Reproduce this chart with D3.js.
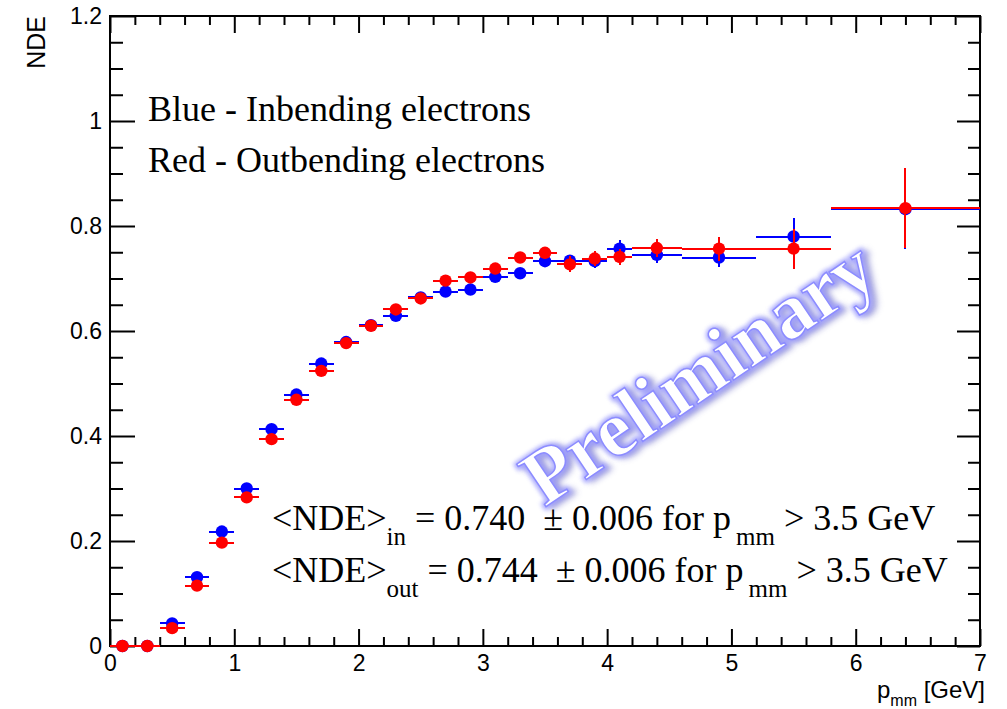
<!DOCTYPE html>
<html>
<head>
<meta charset="utf-8">
<script src="https://cdn.jsdelivr.net/npm/d3@7"></script>
<style>
  html, body { margin: 0; padding: 0; background: #fff; }
  svg { display: block; }
  text { white-space: pre; }
</style>
</head>
<body>
<svg id="chart" width="1007" height="709"></svg>
<script>
// Momentum bins: centres and half widths [GeV]
const binCenters = [0.1, 0.3, 0.5, 0.7, 0.9, 1.1, 1.3, 1.5, 1.7, 1.9, 2.1, 2.3, 2.5,
                    2.7, 2.9, 3.1, 3.3, 3.5, 3.7, 3.9, 4.1, 4.4, 4.9, 5.5, 6.4];
const binHalfWidths = [0.1, 0.1, 0.1, 0.1, 0.1, 0.1, 0.1, 0.1, 0.1, 0.1, 0.1, 0.1, 0.1,
                       0.1, 0.1, 0.1, 0.1, 0.1, 0.1, 0.1, 0.1, 0.2, 0.3, 0.3, 0.6];

// Inbending electrons (blue)
const ndeInbending = [0.000, 0.000, 0.043, 0.131, 0.218, 0.300, 0.413, 0.479, 0.538, 0.579,
                      0.611, 0.629, 0.664, 0.675, 0.679, 0.703, 0.710, 0.733, 0.734, 0.733,
                      0.757, 0.745, 0.740, 0.780, 0.832];
const errInbending = [0.002, 0.002, 0.003, 0.004, 0.004, 0.004, 0.004, 0.004, 0.004, 0.004,
                      0.004, 0.005, 0.005, 0.005, 0.005, 0.006, 0.006, 0.008, 0.011, 0.013,
                      0.016, 0.016, 0.018, 0.035, 0.075];

// Outbending electrons (red)
const ndeOutbending = [0.000, 0.000, 0.034, 0.115, 0.197, 0.283, 0.394, 0.469, 0.524, 0.577,
                       0.610, 0.641, 0.662, 0.696, 0.702, 0.719, 0.740, 0.749, 0.727, 0.738,
                       0.741, 0.758, 0.757, 0.757, 0.834];
const errOutbending = [0.002, 0.002, 0.003, 0.004, 0.004, 0.004, 0.004, 0.004, 0.004, 0.004,
                       0.004, 0.005, 0.005, 0.005, 0.005, 0.006, 0.007, 0.009, 0.015, 0.015,
                       0.016, 0.017, 0.023, 0.038, 0.076];

// Axis ticks
const xMajorTicks = [0, 1, 2, 3, 4, 5, 6, 7];
const yMajorTicks = [0, 0.2, 0.4, 0.6, 0.8, 1.0, 1.2];
const yTickLabels = ["0", "0.2", "0.4", "0.6", "0.8", "1", "1.2"];

const svg = d3.select("#chart");
const frame = { left: 110, right: 980, top: 16, bottom: 646 };

const x = d3.scaleLinear().domain([0, 7]).range([frame.left, frame.right]);
const y = d3.scaleLinear().domain([0, 1.2]).range([frame.bottom, frame.top]);

const xMinor = d3.range(0, 7.0001, 0.2).map(v => +v.toFixed(1)).filter(v => !xMajorTicks.includes(v));
const yMinor = d3.range(0, 1.2001, 0.05).map(v => +v.toFixed(2)).filter(v => !yMajorTicks.some(m => Math.abs(m - v) < 1e-6));

const sans = "'Liberation Sans', Arial, Helvetica, sans-serif";
const serif = "'Liberation Serif', 'Times New Roman', Times, serif";

function styleAxis(g) {
  g.select(".domain").remove();
  g.selectAll(".tick line").attr("stroke", "#000").attr("stroke-width", 2);
  g.selectAll(".tick text").attr("fill", "#000").attr("font-family", sans).attr("font-size", 23);
}

// Bottom axis
svg.append("g").attr("transform", `translate(0,${frame.bottom})`)
  .call(d3.axisBottom(x).tickValues(xMinor).tickSize(-9).tickFormat(""))
  .call(styleAxis);
svg.append("g").attr("transform", `translate(0,${frame.bottom})`)
  .call(d3.axisBottom(x).tickValues(xMajorTicks).tickSize(-17).tickPadding(9).tickFormat(d3.format("d")))
  .call(styleAxis);

// Top axis
svg.append("g").attr("transform", `translate(0,${frame.top})`)
  .call(d3.axisTop(x).tickValues(xMinor).tickSize(-9).tickFormat(""))
  .call(styleAxis);
svg.append("g").attr("transform", `translate(0,${frame.top})`)
  .call(d3.axisTop(x).tickValues(xMajorTicks).tickSize(-17).tickFormat(""))
  .call(styleAxis);

// Left axis
svg.append("g").attr("transform", `translate(${frame.left},0)`)
  .call(d3.axisLeft(y).tickValues(yMinor).tickSize(-13).tickFormat(""))
  .call(styleAxis);
svg.append("g").attr("transform", `translate(${frame.left},0)`)
  .call(d3.axisLeft(y).tickValues(yMajorTicks).tickSize(-25).tickPadding(8)
        .tickFormat((d, i) => yTickLabels[i]))
  .call(styleAxis);

// Right axis
svg.append("g").attr("transform", `translate(${frame.right},0)`)
  .call(d3.axisRight(y).tickValues(yMinor).tickSize(-12).tickFormat(""))
  .call(styleAxis);
svg.append("g").attr("transform", `translate(${frame.right},0)`)
  .call(d3.axisRight(y).tickValues(yMajorTicks).tickSize(-23).tickFormat(""))
  .call(styleAxis);

// Frame
svg.append("rect")
  .attr("x", frame.left).attr("y", frame.top)
  .attr("width", frame.right - frame.left).attr("height", frame.bottom - frame.top)
  .attr("fill", "none").attr("stroke", "#000").attr("stroke-width", 2);

// Axis titles
svg.append("text")
  .attr("transform", `translate(45,${frame.top}) rotate(-90)`)
  .attr("text-anchor", "end")
  .attr("font-family", sans).attr("font-size", 25)
  .text("NDE");

const xTitle = svg.append("text")
  .attr("x", 985).attr("y", 698)
  .attr("text-anchor", "end")
  .attr("font-family", sans).attr("font-size", 24);
xTitle.append("tspan").text("p");
xTitle.append("tspan").attr("font-size", 16).attr("dy", 8).text("mm");
xTitle.append("tspan").attr("dy", -8).text(" [GeV]");

// Watermark
const defs = svg.append("defs");
defs.append("filter").attr("id", "soft").attr("x", "-20%").attr("y", "-40%").attr("width", "140%").attr("height", "180%")
  .append("feGaussianBlur").attr("stdDeviation", 3);
defs.append("filter").attr("id", "softer").attr("x", "-20%").attr("y", "-40%").attr("width", "140%").attr("height", "180%")
  .append("feGaussianBlur").attr("stdDeviation", 2);

const wm = svg.append("g").attr("transform", "translate(713,394) rotate(-34)");
const wmText = "Preliminary";
function wmLabel() {
  return wm.append("text")
    .attr("text-anchor", "middle")
    .attr("font-family", serif).attr("font-weight", "bold").attr("font-size", 79)
    .text(wmText);
}
wmLabel().attr("transform", "translate(4,4)")
  .attr("fill", "#4a4ab8").attr("stroke", "#4a4ab8").attr("stroke-width", 4)
  .attr("opacity", 0.5).attr("filter", "url(#soft)");
wmLabel().attr("fill", "none").attr("stroke", "#9a9aff").attr("stroke-width", 6)
  .attr("opacity", 0.8).attr("filter", "url(#softer)");
wmLabel().attr("fill", "#fff").attr("stroke", "#8c8cff").attr("stroke-width", 1.5);

// Legend text
svg.append("text").attr("x", 148).attr("y", 121)
  .attr("font-family", serif).attr("font-size", 36).text("Blue - Inbending electrons");
svg.append("text").attr("x", 148).attr("y", 172)
  .attr("font-family", serif).attr("font-size", 36).text("Red - Outbending electrons");

// Mean values above 3.5 GeV
function statLine(yPos, sub, value) {
  const t = svg.append("text").attr("x", 272).attr("y", yPos)
    .attr("font-family", serif).attr("font-size", 36);
  t.append("tspan").text("<NDE>");
  t.append("tspan").attr("font-size", 25).attr("dy", 15).text(sub);
  t.append("tspan").attr("dy", -15).text(` = ${value}  \u00B1 0.006 for p`);
  t.append("tspan").attr("font-size", 25).attr("dy", 15).attr("dx", 5).text("mm");
  t.append("tspan").attr("dy", -15).text(" > 3.5 GeV");
}
statLine(530, "in", "0.740");
statLine(582, "out", "0.744");

// Data series
const series = [
  { color: "#0000ff", values: ndeInbending, errors: errInbending },
  { color: "#ff0000", values: ndeOutbending, errors: errOutbending }
];

const plot = svg.append("g");
series.forEach(s => {
  const pts = binCenters.map((c, i) => ({ c, hw: binHalfWidths[i], v: s.values[i], e: s.errors[i] }));
  const g = plot.append("g");
  g.selectAll("line.h").data(pts).join("line").attr("class", "h")
    .attr("x1", d => x(d.c - d.hw)).attr("x2", d => x(d.c + d.hw))
    .attr("y1", d => y(d.v)).attr("y2", d => y(d.v))
    .attr("stroke", s.color).attr("stroke-width", 2)
    .attr("shape-rendering", "crispEdges");
  g.selectAll("line.v").data(pts).join("line").attr("class", "v")
    .attr("x1", d => x(d.c)).attr("x2", d => x(d.c))
    .attr("y1", d => y(d.v - d.e)).attr("y2", d => y(d.v + d.e))
    .attr("stroke", s.color).attr("stroke-width", 2)
    .attr("shape-rendering", "crispEdges");
  g.selectAll("circle").data(pts).join("circle")
    .attr("cx", d => x(d.c)).attr("cy", d => y(d.v)).attr("r", 6.2)
    .attr("fill", s.color);
});
</script>
</body>
</html>
